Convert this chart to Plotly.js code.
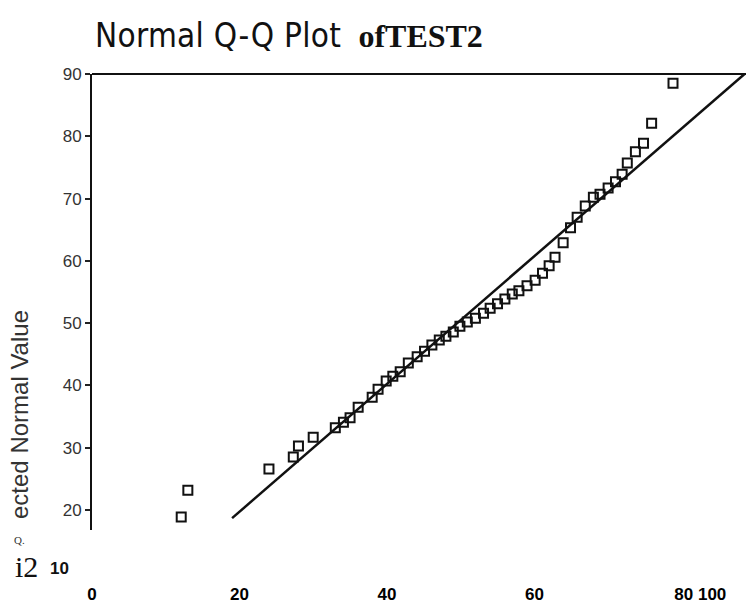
<!DOCTYPE html>
<html>
<head>
<meta charset="utf-8">
<script src="https://cdn.plot.ly/plotly-3.0.1.min.js"></script>
<style>html,body{margin:0;padding:0;background:#fff;}#chart{width:746px;height:605px;}</style>
</head>
<body>
<div id="chart"></div>
<script>
const observed = [12.1, 13.0, 24.0, 27.3, 28.0, 30.0, 33.0, 34.1, 35.0, 36.1,
  38.0, 38.8, 39.9, 40.8, 41.8, 42.9, 44.1, 45.1, 46.1, 47.1,
  48.0, 49.0, 49.9, 50.9, 52.0, 53.1, 54.0, 55.0, 56.0, 57.0,
  57.9, 59.0, 60.1, 61.1, 62.0, 62.8, 63.9, 64.9, 65.8, 66.9,
  68.0, 68.9, 70.0, 71.0, 71.9, 72.6, 73.7, 74.8, 75.9, 78.8];
const expected = [18.9, 23.2, 26.6, 28.5, 30.3, 31.7, 33.2, 34.1, 34.8, 36.5,
  38.1, 39.4, 40.7, 41.5, 42.2, 43.6, 44.6, 45.5, 46.5, 47.3,
  47.9, 48.6, 49.5, 50.2, 50.8, 51.6, 52.4, 53.1, 53.9, 54.7,
  55.2, 56.0, 56.9, 58.0, 59.2, 60.6, 62.9, 65.3, 67.0, 68.8,
  70.2, 70.7, 71.7, 72.7, 73.9, 75.7, 77.5, 78.9, 82.1, 88.5];
// Reference line end points
const lineX = [19.0, 88.5];
const lineY = [18.7, 90.0];
// Tick labels
const yTicks = [20, 30, 40, 50, 60, 70, 80, 90];
const xTickVals = [0, 20, 40, 60, 82.5];
const xTickText = ["0", "20", "40", "60", "80 100"];

const traces = [
  {x: lineX, y: lineY, mode: 'lines', line: {color: '#111', width: 2.5}, hoverinfo: 'skip'},
  {x: observed, y: expected, mode: 'markers',
   marker: {symbol: 'square-open', size: 9, color: '#111', line: {width: 2, color: '#111'}}}
];

const layout = {
  width: 746, height: 605,
  margin: {l: 92, r: 0, t: 74, b: 75, pad: 0},
  paper_bgcolor: '#fff', plot_bgcolor: '#fff',
  showlegend: false,
  xaxis: {
    range: [0, 88.7], showgrid: false, zeroline: false, showline: false,
    tickmode: 'array', tickvals: xTickVals, ticktext: xTickText,
    ticks: 'outside', ticklen: 49, tickcolor: 'rgba(0,0,0,0)',
    tickfont: {family: 'Liberation Sans, Arial, sans-serif', size: 17, color: '#000', weight: 'bold'}
  },
  yaxis: {
    range: [16.8, 90], showgrid: false, zeroline: false,
    showline: true, linecolor: '#111', linewidth: 2,
    tickmode: 'array', tickvals: yTicks,
    ticks: 'outside', ticklen: 5, tickwidth: 2, tickcolor: '#222',
    tickfont: {family: 'Liberation Sans, Arial, sans-serif', size: 17, color: '#333'}
  },
  shapes: [
    {type: 'line', xref: 'paper', yref: 'paper', x0: 0, x1: 1, y0: 1, y1: 1,
     line: {color: '#111', width: 2}}
  ],
  annotations: [
    {xref: 'paper', yref: 'paper', x: 0, y: 1, xanchor: 'left', yanchor: 'middle', xshift: 1, yshift: 40,
     showarrow: false,
     text: "<span style='font-family:\"Liberation Sans Narrow\",\"DejaVu Sans Condensed\",Arial;font-size:33px;letter-spacing:0.3px'>Normal Q-Q Plot</span>  <span style='font-family:\"Liberation Serif\",\"Times New Roman\",serif;font-weight:bold;font-size:32px'>ofTEST2</span>",
     font: {color: '#111', size: 33}},
    {xref: 'paper', yref: 'paper', x: 0, y: 0.5, xanchor: 'center', yanchor: 'middle',
     xshift: -73, yshift: -113,
     showarrow: false, textangle: -90,
     text: 'ected Normal Value',
     font: {family: 'Liberation Sans, Arial, sans-serif', size: 24, color: '#333'}},
    {xref: 'paper', yref: 'paper', x: 0, y: 0, xanchor: 'center', yanchor: 'middle',
     xshift: -73, yshift: -10,
     showarrow: false, text: 'Q.',
     font: {family: 'Liberation Serif, serif', size: 11, color: '#333'}},
    {xref: 'paper', yref: 'paper', x: 0, y: 0, xanchor: 'center', yanchor: 'middle',
     xshift: -66, yshift: -36,
     showarrow: false, text: 'i2',
     font: {family: 'Liberation Serif, serif', size: 30, color: '#111'}},
    {xref: 'paper', yref: 'paper', x: 0, y: 0, xanchor: 'center', yanchor: 'middle',
     xshift: -33, yshift: -38,
     showarrow: false, text: '<b>10</b>',
     font: {family: 'Liberation Sans, Arial, sans-serif', size: 17, color: '#111'}}
  ]
};

Plotly.newPlot('chart', traces, layout, {staticPlot: true, displayModeBar: false});
</script>
</body>
</html>
